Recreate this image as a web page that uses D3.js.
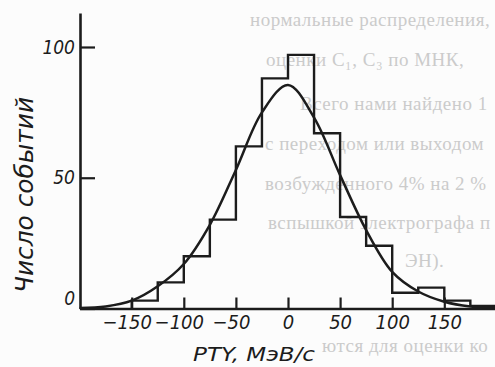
<!DOCTYPE html>
<html>
<head>
<meta charset="utf-8">
<script src="https://cdn.jsdelivr.net/npm/d3@7"></script>
<style>
  html, body { margin: 0; padding: 0; background: #fcfcfc; }
  svg { display: block; }
  .lbl { font-family: "Liberation Sans Narrow", "DejaVu Sans Condensed", "Arial Narrow", sans-serif; font-style: italic; fill: #1c1c1c; }
  .bg { font-family: "Liberation Serif", "DejaVu Serif", serif; fill: #cbcbcb; font-size: 19px; letter-spacing: 0.5px; }
</style>
</head>
<body>
<figure id="hist" style="margin:0"></figure>
<script>
// histogram of events, bins 25 MeV/c wide
const binStart = [-150, -125, -100, -75, -50, -25, 0, 25, 50, 75, 100, 125, 150, 175];
const binWidth = 25;
const counts = [3, 10, 20, 34, 62, 88, 97, 67, 35, 24, 6, 8, 3, 1];

// fitted curve
const fitX = [-200, -175, -150, -125, -100, -75, -50, -25, 0, 25, 50, 75, 100, 125, 150, 175, 200];
const fitY = [0.2, 0.8, 3, 8.5, 17, 32, 53, 75, 85.5, 73, 51, 30, 14, 6.5, 2.6, 0.8, 0.3];

const xTicks = [-150, -100, -50, 0, 50, 100, 150];
const yTicks = [0, 50, 100];
const xTitle = "PTY, МэВ/с";
const yTitle = "Число событий";

// page text showing through the scan
const bgLines = [
  "нормальные распределения, опр",
  "оценки C₁, C₃ по МНК,",
  "Всего нами найдено 13 соб",
  "с переходом или выходом",
  "возбужденного 4% на 2 %",
  "вспышкой электрографа получен",
  "ЭН).",
  "ются для оценки конст"
];
const bgPos = [[250, 26], [266, 66], [300, 110], [265, 150], [265, 190], [268, 229], [405, 267], [322, 352]];

const W = 495, H = 367;
const ink = "#1c1c1c";

const svg = d3.select("figure#hist").append("svg")
  .attr("width", W).attr("height", H);

// keep the faint lines inside the frame
svg.append("g").selectAll("text")
  .data(bgLines)
  .enter().append("text")
  .attr("class", "bg")
  .attr("x", (d, i) => bgPos[i][0])
  .attr("y", (d, i) => bgPos[i][1])
  .text(d => d)
  .each(function(d, i) {
    let s = d;
    while (s.length > 1 && bgPos[i][0] + this.getComputedTextLength() > W - 4) {
      s = s.slice(0, -1).trimEnd();
      this.textContent = s;
    }
  });

const x = d3.scaleLinear().domain([-200, 200]).range([79.6, 496.4]);
const y = d3.scaleLinear().domain([0, 113]).range([308.5, 13]);

// X axis
const xAxis = svg.append("g").attr("class", "xAxis")
  .attr("transform", "translate(0," + y(0) + ")")
  .call(d3.axisBottom(x).tickValues(xTicks).tickSizeInner(-11).tickSizeOuter(0).tickPadding(6.5)
    .tickFormat(d => d < 0 ? "\u2212" + Math.abs(d) : String(d)));
xAxis.select(".domain").attr("stroke", ink).attr("stroke-width", 2.6);
xAxis.selectAll(".tick line").attr("stroke", ink).attr("stroke-width", 2.2);
xAxis.selectAll(".tick text")
  .attr("class", "lbl").attr("font-size", 20)
  .attr("dx", d => d < 0 ? -5 : 0);

// Y axis
const yAxis = svg.append("g").attr("class", "yAxis")
  .attr("transform", "translate(80,0)")
  .call(d3.axisLeft(y).tickValues(yTicks).tickSizeInner(-15).tickSizeOuter(0).tickPadding(5));
yAxis.select(".domain").attr("stroke", ink).attr("stroke-width", 2.6);
yAxis.selectAll(".tick line").attr("stroke", ink).attr("stroke-width", 2.2);
yAxis.selectAll(".tick text")
  .attr("class", "lbl").attr("font-size", 19)
  .attr("y", d => d === 0 ? -10 : 0);
svg.selectAll(".tick text").attr("font-family", null);

// histogram outline
const steps = [[binStart[0], 0]]
  .concat(binStart.map((b, i) => [b, counts[i]]))
  .concat([[binStart[binStart.length - 1] + binWidth, 0]]);
svg.append("path")
  .attr("d", d3.line().x(d => x(d[0])).y(d => y(d[1])).curve(d3.curveStepAfter)(steps))
  .attr("fill", "none").attr("stroke", ink).attr("stroke-width", 2.4)
  .attr("stroke-linejoin", "miter");

// fitted curve
svg.append("path")
  .attr("d", d3.line().x((d, i) => x(fitX[i])).y(d => y(d)).curve(d3.curveCatmullRom)(fitY))
  .attr("fill", "none").attr("stroke", ink).attr("stroke-width", 2.5);

// titles
svg.append("text").attr("class", "lbl")
  .attr("x", 254).attr("y", 361)
  .attr("text-anchor", "middle").attr("font-size", 19)
  .attr("textLength", 122).attr("lengthAdjust", "spacingAndGlyphs")
  .text(xTitle);

svg.append("text").attr("class", "lbl")
  .attr("transform", "translate(33,195) rotate(-90)")
  .attr("text-anchor", "middle").attr("font-size", 25)
  .attr("textLength", 196).attr("lengthAdjust", "spacingAndGlyphs")
  .text(yTitle);
</script>
</body>
</html>
